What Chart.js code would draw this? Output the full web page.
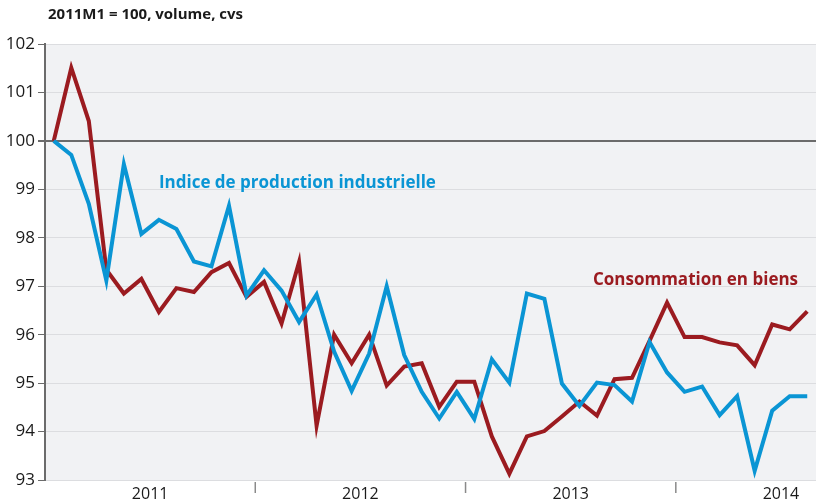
<!DOCTYPE html>
<html>
<head>
<meta charset="utf-8">
<script src="https://cdn.jsdelivr.net/npm/chart.js@4"></script>
<style>
  html, body { margin: 0; padding: 0; background: #fff; }
  #wrap { width: 819px; height: 503px; position: relative; }
</style>
</head>
<body>
<div id="wrap"><canvas id="ipiChart"></canvas></div>
<script>
// monthly, 2011M1 .. 2014M8
const years = ['2011', '2012', '2013', '2014'];
const months = [];
years.forEach(y => { for (let m = 1; m <= 12; m++) months.push(y + 'M' + m); });
months.length = 44;

const production = [100, 99.71, 98.70, 97.12, 99.52, 98.08, 98.37, 98.18, 97.51, 97.41, 98.66, 96.81,
                    97.33, 96.91, 96.26, 96.83, 95.65, 94.84, 95.61, 97.00, 95.58, 94.82, 94.27, 94.82,
                    94.26, 95.49, 95.01, 96.85, 96.74, 94.99, 94.53, 95.01, 94.96, 94.62, 95.85, 95.22,
                    94.82, 94.93, 94.34, 94.73, 93.19, 94.43, 94.73, 94.73];
const consommation = [100, 101.51, 100.41, 97.34, 96.85, 97.15, 96.47, 96.96, 96.88, 97.29, 97.48, 96.78,
                      97.09, 96.23, 97.50, 94.12, 96.00, 95.41, 96.00, 94.95, 95.34, 95.41, 94.51, 95.03,
                      95.03, 93.90, 93.13, 93.90, 94.01, 94.31, 94.62, 94.33, 95.08, 95.11, 95.87, 96.66,
                      95.95, 95.95, 95.84, 95.78, 95.37, 96.21, 96.11, 96.48];

const blue = '#0a95d4';
const red = '#9b1b20';
const dark = '#6b6b6b';
const font = "'Open Sans', sans-serif";

const decor = {
    id: 'decor',
    beforeDraw(chart) {
        const { ctx, chartArea: a } = chart;
        ctx.save();
        ctx.fillStyle = '#f1f2f4';
        ctx.fillRect(a.left, a.top, a.right - a.left, a.bottom - a.top);
        ctx.restore();
    },
    afterDraw(chart) {
        const { ctx, chartArea: a } = chart;
        const x = chart.scales.x, y = chart.scales.y;
        const step = x.getPixelForValue(1) - x.getPixelForValue(0);
        ctx.save();
        // year separators and labels
        ctx.strokeStyle = '#8a8a8a';
        ctx.lineWidth = 1.5;
        ctx.fillStyle = '#1a1a1a';
        ctx.font = '16px ' + font;
        ctx.textAlign = 'center';
        ctx.textBaseline = 'middle';
        years.forEach((yr, k) => {
            const start = x.getPixelForValue(k * 12) - step / 2;
            if (k > 0) {
                ctx.beginPath();
                ctx.moveTo(start, a.bottom + 2);
                ctx.lineTo(start, a.bottom + 13);
                ctx.stroke();
            }
            ctx.fillText(yr, start + step * 6, a.bottom + 14);
        });
        // title
        ctx.textAlign = 'left';
        ctx.font = 'bold 15px ' + font;
        ctx.fillText('2011M1 = 100, volume, cvs', 48, 15);
        // series labels
        ctx.font = 'bold 17px ' + font;
        ctx.fillStyle = blue;
        ctx.fillText('Indice de production industrielle', x.getPixelForValue(6), y.getPixelForValue(99.12));
        ctx.fillStyle = red;
        ctx.fillText('Consommation en biens', x.getPixelForValue(31) - 4, y.getPixelForValue(97.12));
        ctx.restore();
    }
};

new Chart(document.getElementById('ipiChart'), {
    type: 'line',
    data: {
        labels: months,
        datasets: [
            { label: 'Indice de production industrielle', data: production, borderColor: blue, borderWidth: 4, pointRadius: 0, tension: 0 },
            { label: 'Consommation en biens', data: consommation, borderColor: red, borderWidth: 4, pointRadius: 0, tension: 0 }
        ]
    },
    options: {
        responsive: true,
        maintainAspectRatio: false,
        animation: false,
        layout: { padding: { top: 44, right: 3, left: 0, bottom: 0 } },
        scales: {
            x: {
                offset: true,
                grid: { display: false },
                border: { display: false },
                ticks: { display: false },
                afterFit: s => { s.height = 23; }
            },
            y: {
                min: 93,
                max: 102,
                ticks: { stepSize: 1, color: '#1a1a1a', font: { family: font, size: 17 }, padding: 3 },
                grid: {
                    color: c => c.tick && c.tick.value === 100 ? dark : '#dcdde0',
                    lineWidth: c => c.tick && c.tick.value === 100 ? 2 : 1,
                    tickColor: dark,
                    tickLength: 7
                },
                border: { display: true, color: dark, width: 2 },
                afterFit: s => { s.width = 45; }
            }
        },
        plugins: {
            legend: { display: false },
            tooltip: { enabled: false }
        }
    },
    plugins: [decor]
});
</script>
</body>
</html>
